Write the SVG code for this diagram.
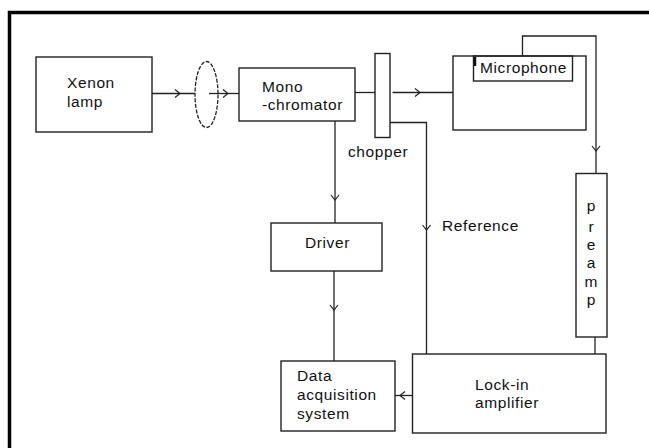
<svg xmlns="http://www.w3.org/2000/svg" width="649" height="448" viewBox="0 0 649 448">
<style>
  .box{fill:none;stroke:#222;stroke-width:1.4}
  .wire{fill:none;stroke:#222;stroke-width:1.3}
  .lbl{font-family:"Liberation Sans",Arial,sans-serif;font-size:15.5px;letter-spacing:0.6px;fill:#111}
  .pre{font-family:"Liberation Sans",Arial,sans-serif;font-size:15.5px;fill:#111;text-anchor:middle}
</style>
<defs>
  <marker id="chev" viewBox="-1 -5 7 10" refX="5" refY="0" markerWidth="7" markerHeight="10" markerUnits="userSpaceOnUse" orient="auto">
    <path d="M0,-4 L5,0 L0,4" fill="none" stroke="#222" stroke-width="1.2"/>
  </marker>
</defs>
<rect width="649" height="448" fill="#fff"/>
<g id="frame">
  <path d="M9.5,448 V12.5 H649" fill="none" stroke="#000" stroke-width="3.5"/>
</g>
<g id="connectors">
  <path class="wire" d="M152,93.5 L180,93.5 L195,93.5" marker-mid="url(#chev)"/>
  <path class="wire" d="M209,93.5 L228,93.5 L239,93.5" marker-mid="url(#chev)"/>
  <path class="wire" d="M355,92.5 H375"/>
  <path class="wire" d="M392.5,92.5 L420,92.5 L453,92.5" marker-mid="url(#chev)"/>
  <path class="wire" d="M390,122.5 H426.5 V200"/>
  <path class="wire" d="M426.5,200 L426.5,230 L426.5,354" marker-mid="url(#chev)"/>
  <path class="wire" d="M522.5,56 V36 H596 V120"/>
  <path class="wire" d="M596,120 L596,151 L596,173.5" marker-mid="url(#chev)"/>
  <path class="wire" d="M595,337 V354"/>
  <path class="wire" d="M335,121 L335,200 L335,223" marker-mid="url(#chev)"/>
  <path class="wire" d="M334,271 L334,310 L334,361" marker-mid="url(#chev)"/>
  <path class="wire" d="M412,395.5 L400,395.5 L395,395.5" marker-mid="url(#chev)"/>
</g>
<g id="xenon-lamp">
  <rect class="box" x="36" y="57" width="116" height="75"/>
  <text class="lbl" x="67" y="88">Xenon</text>
  <text class="lbl" x="67" y="107">lamp</text>
</g>
<g id="lens">
  <ellipse cx="206.5" cy="94.5" rx="11.5" ry="33" fill="none" stroke="#222" stroke-width="1.3" stroke-dasharray="4 1.5"/>
</g>
<g id="monochromator">
  <rect class="box" x="239" y="68" width="116" height="53"/>
  <text class="lbl" x="262" y="92">Mono</text>
  <text class="lbl" x="262" y="110">-chromator</text>
</g>
<g id="chopper">
  <rect class="box" x="375" y="53.5" width="15" height="84"/>
  <text class="lbl" x="348" y="157">chopper</text>
</g>
<g id="cell">
  <rect class="box" x="453" y="56" width="133" height="74"/>
</g>
<g id="microphone">
  <rect class="box" x="473.5" y="56" width="99" height="25"/>
  <path d="M475,57 V66" stroke="#111" stroke-width="2.5"/>
  <text class="lbl" x="480" y="73">Microphone</text>
</g>
<g id="preamp">
  <rect class="box" x="576" y="173.5" width="31" height="163.5"/>
  <text class="pre" x="591" y="211">p</text>
  <text class="pre" x="591" y="231.5">r</text>
  <text class="pre" x="591" y="249.5">e</text>
  <text class="pre" x="591" y="268">a</text>
  <text class="pre" x="591" y="286.5">m</text>
  <text class="pre" x="591" y="305">p</text>
</g>
<g id="reference-label">
  <text class="lbl" x="442" y="231">Reference</text>
</g>
<g id="driver">
  <rect class="box" x="271" y="223" width="111" height="48"/>
  <text class="lbl" x="305" y="248">Driver</text>
</g>
<g id="lock-in-amplifier">
  <rect class="box" x="412.5" y="354" width="193.5" height="79"/>
  <text class="lbl" x="475" y="390">Lock-in</text>
  <text class="lbl" x="475" y="408">amplifier</text>
</g>
<g id="data-acquisition">
  <rect class="box" x="281" y="361" width="114" height="70"/>
  <text class="lbl" x="297" y="381">Data</text>
  <text class="lbl" x="297" y="400">acquisition</text>
  <text class="lbl" x="297" y="419">system</text>
</g>
</svg>
